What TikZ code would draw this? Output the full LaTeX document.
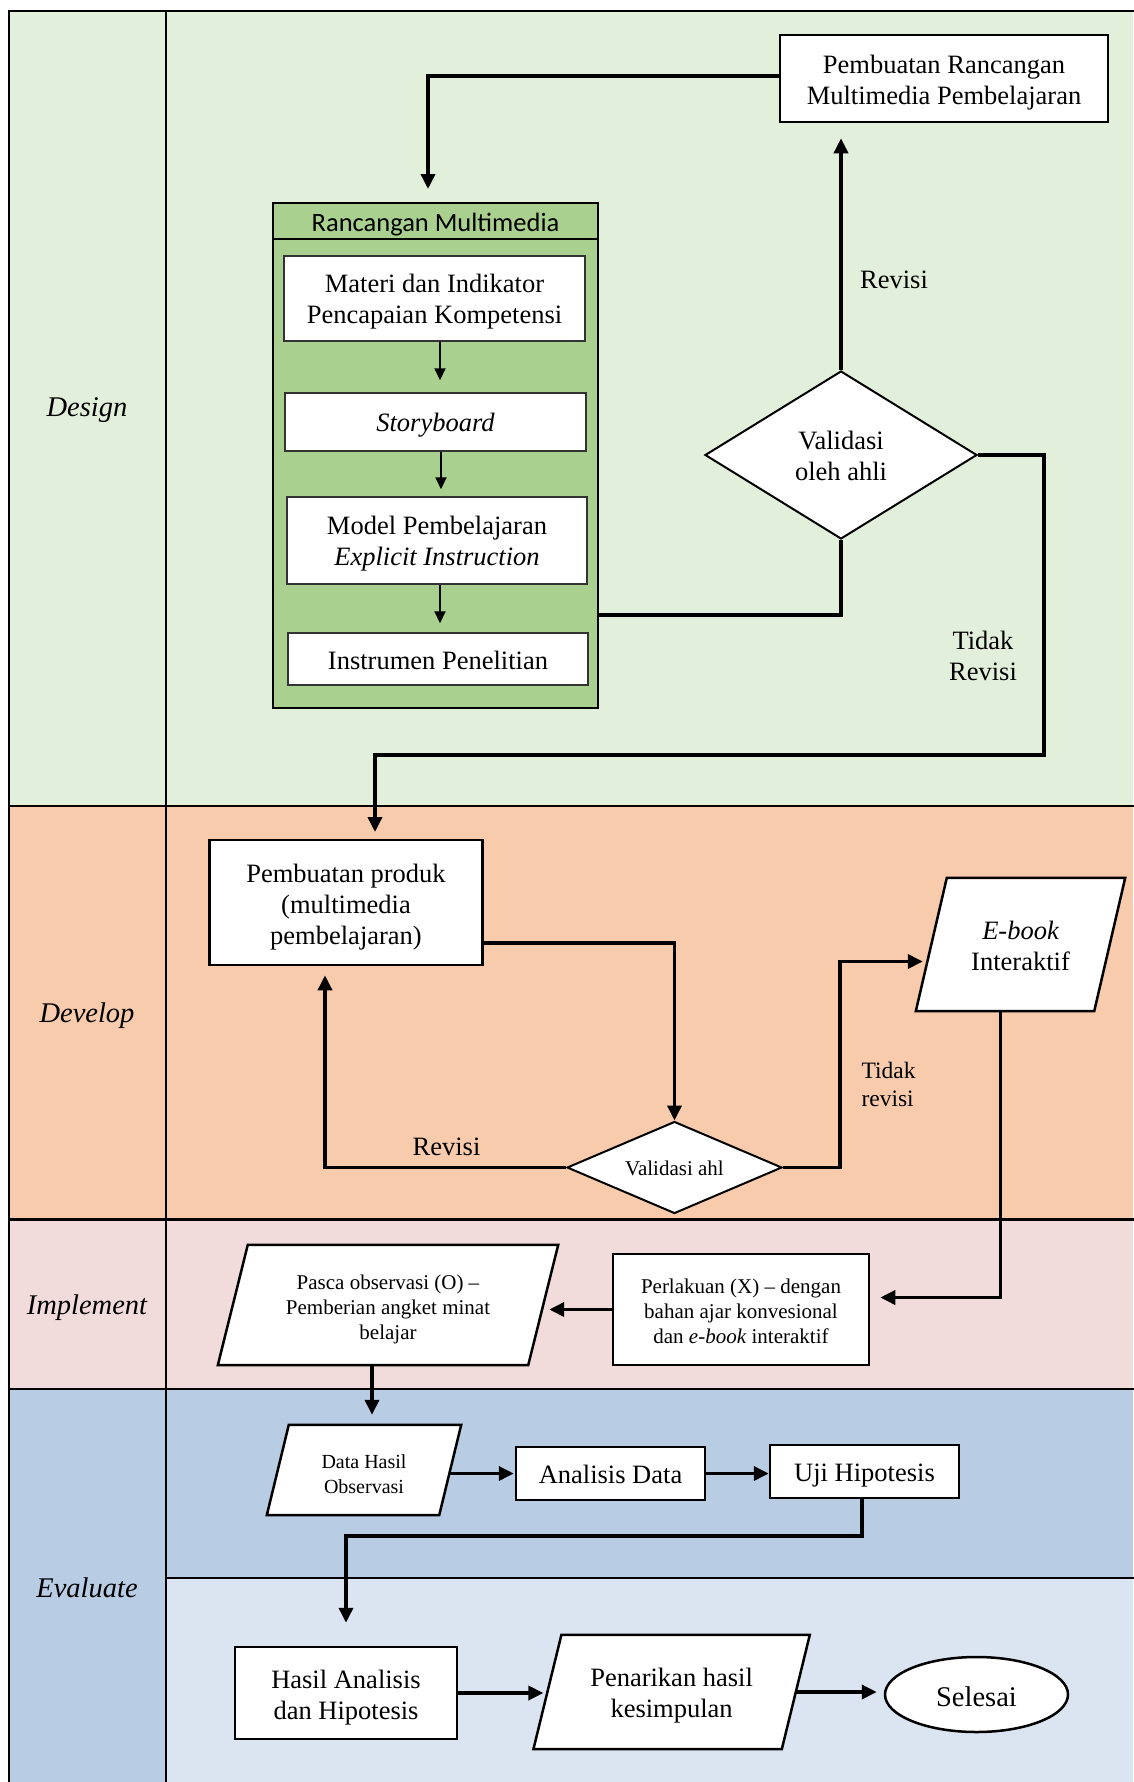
\documentclass[tikz,border=0pt]{standalone}
\usepackage{fontspec}
\setmainfont{Liberation Serif}
\newfontfamily\calib{Carlito}
\usetikzlibrary{shapes.geometric,arrows.meta,calc}
\pgfdeclarelayer{back}
\pgfdeclarelayer{mid}
\pgfsetlayers{back,mid,main}
\definecolor{cDesign}{HTML}{E2EFDA}
\definecolor{cDevelop}{HTML}{F8CBAD}
\definecolor{cImpl}{HTML}{F2DCDB}
\definecolor{cEvalD}{HTML}{B8CCE4}
\definecolor{cEvalL}{HTML}{DBE5F1}
\definecolor{cCont}{HTML}{A9D08E}
\newcommand{\bigf}{\fontsize{26.5}{31}\selectfont}
\newcommand{\midf}{\fontsize{23.5}{28}\selectfont}
\newcommand{\smallf}{\fontsize{21}{25}\selectfont}
\newcommand{\tinyf}{\fontsize{20}{24.3}\selectfont}
\newcommand{\lblf}{\fontsize{28.5}{33}\selectfont\itshape}
\newcommand{\drawpara}[2]{\begin{pgfonlayer}{mid}\draw[paraline] ([xshift=#2pt]#1.north west) -- ([xshift=#2pt]#1.north east) -- ([xshift=-#2pt]#1.south east) -- ([xshift=-#2pt]#1.south west) -- cycle;\end{pgfonlayer}}
% text of a shape, set a little lower than its centre
\newcommand{\tx}[4][\bigf]{\node[align=center,inner sep=0pt,font=#1] (#2-t) at ([yshift=-#3pt]#2.center) {#4};}
\begin{document}
\begin{tikzpicture}[x=1pt,y=-1pt,
  lane/.style={line width=2.2pt,line cap=rect},
  box/.style={draw,line width=2.5pt,fill=white,inner sep=0pt},
  ibox/.style={draw=black!80,line width=1.5pt,fill=white,inner sep=0pt},
  paraline/.style={draw,line width=2.5pt,fill=white,line join=miter},
  pnode/.style={inner sep=0pt},
  dia/.style={diamond,draw,line width=2pt,fill=white,inner sep=0pt},
  arr/.style={line width=3.5pt,-{Triangle[length=15pt,width=14pt]}},
  thinarr/.style={line width=2pt,-{Triangle[length=12pt,width=11pt]}},
  thk/.style={line width=3.5pt},
  lbl/.style={font=\lblf},
  txt/.style={font=\bigf,align=center}]
\useasboundingbox (0,0) rectangle (1133,1782);
% lanes
\begin{pgfonlayer}{back}
\fill[white] (0,0) rectangle (1133,1782);
\fill[cDesign] (9,11) rectangle (1133,806);
\fill[cDevelop] (9,806) rectangle (1133,1219.5);
\fill[cImpl] (9,1219.5) rectangle (1133,1389);
\fill[cEvalD] (9,1389) rectangle (1133,1578);
\fill[cEvalD] (9,1578) rectangle (166,1782);
\fill[cEvalL] (166,1578) rectangle (1133,1782);
\draw[lane] (1140,11) -- (9,11) -- (9,1790);
\draw[lane] (166,11) -- (166,1790);
\draw[lane] (9,806) -- (1140,806);
\draw[lane] (9,1219.5) -- (1140,1219.5);
\draw[lane] (9,1389) -- (1140,1389);
\draw[lane] (166,1578) -- (1140,1578);
\end{pgfonlayer}
% lane labels
\node[lbl] (lDesign) at (87,410) {Design};
\node[lbl] (lDevelop) at (87,1016) {Develop};
\node[lbl] (lImpl) at (87,1308) {Implement};
\node[lbl] (lEval) at (87,1588) {Evaluate};
% ---------- Design ----------
\node[box,minimum width=328pt,minimum height=87pt] (pr) at (944,78.5) {};
\tx{pr}{4}{Pembuatan Rancangan\\Multimedia Pembelajaran}
\node[draw,line width=2pt,fill=cCont,minimum width=325pt,minimum height=505pt,inner sep=0pt] (cont) at (435.5,455.5) {};
\draw[line width=2pt] (cont.west |- 0,239) -- (cont.east |- 0,239);
\node[font=\calib\fontsize{26.5}{31}\selectfont] (conthead) at (435.5,224.5) {Rancangan Multimedia};
\node[ibox,minimum width=301pt,minimum height=85pt] (m1) at (434.5,298.5) {};
\tx{m1}{3.5}{Materi dan Indikator\\Pencapaian Kompetensi}
\node[ibox,minimum width=301pt,minimum height=58pt] (m2) at (435.5,422) {};
\tx{m2}{3.5}{\itshape Storyboard}
\node[ibox,minimum width=300pt,minimum height=87pt] (m3) at (437,540.5) {};
\tx{m3}{3.5}{Model Pembelajaran\\\itshape Explicit Instruction}
\node[ibox,minimum width=300pt,minimum height=52pt] (m4) at (438,659) {};
\tx{m4}{1}{Instrumen Penelitian}
\draw[thinarr,shorten >=12pt] (m1.south -| 440,0) -- (m2.north -| 440,0);
\draw[thinarr,shorten >=7pt] (m2.south -| 441,0) -- (m3.north -| 441,0);
\draw[thinarr,shorten >=9pt] (m3.south -| 440,0) -- (m4.north -| 440,0);
\node[dia,minimum width=272pt,minimum height=168pt] (v1) at (841,455) {};
\tx{v1}{0.5}{Validasi\\oleh ahli}
\draw[arr,shorten >=13pt] (pr.west |- 0,76) -| (cont.north -| 428,0);
\draw[thk] (cont.east |- 0,615) -| (v1.south);
\draw[arr,shorten >=15pt] (v1.north) -- (v1.north |- pr.south);
\node[txt] (tRev1) at (894,280) {Revisi};
\draw[arr,shorten >=8pt] (v1.east) -| (1044,755) -| (375,840);
\node[txt] (tTR1) at (983,655.5) {Tidak\\Revisi};
% ---------- Develop ----------
\node[box,minimum width=273pt,minimum height=125pt] (pp) at (346,902.5) {};
\tx{pp}{4.5}{Pembuatan produk\\(multimedia\\pembelajaran)}
\node[dia,minimum width=215pt,minimum height=92pt] (v2) at (674.5,1167.5) {};
\tx[\smallf]{v2}{1}{Validasi ahl}
\draw[arr] ($(pp.south east)+(0,-23.5)$) -| (v2.north);
\draw[arr,shorten >=9pt] (v2.west) -| ($(pp.south)+(-21,0)$);
\node[txt] (tRev2) at (446.5,1147) {Revisi};
\node[pnode,minimum width=178pt,minimum height=133pt] (eb) at (1020.5,944.5) {};
\drawpara{eb}{15.5}
\tx{eb}{1}{\itshape E-book\\Interaktif}
\draw[arr,shorten >=8.5pt] (v2.east) -| (840,961.5) -- (eb.west |- 0,961.5);
\node[font=\midf,align=left,anchor=west] (tTR2) at (858,1084) {Tidak\\revisi};
% ---------- Implement ----------
\node[box,minimum width=256pt,minimum height=111pt] (per) at (741,1309.5) {};
\tx[\smallf]{per}{2}{Perlakuan (X) -- dengan\\bahan ajar konvesional\\dan \textit{e-book} interaktif}
\node[pnode,minimum width=310pt,minimum height=120pt] (pasca) at (388,1305) {};
\drawpara{pasca}{15}
\tx[\smallf]{pasca}{4.5}{Pasca observasi (O) --\\Pemberian angket minat\\belajar}
\draw[arr,shorten >=10pt] (eb.south -| 1000.5,0) |- (per.east |- 0,1297.5);
\draw[arr,shorten >=6pt] (per.west) -- (pasca.east |- per.west);
% ---------- Evaluate ----------
\node[pnode,minimum width=172pt,minimum height=90pt] (dh) at (364,1470) {};
\drawpara{dh}{11}
\tx[\tinyf]{dh}{4}{Data Hasil\\Observasi}
\draw[arr,shorten >=10pt] (pasca.south -| 372,0) -- (dh.north -| 372,0);
\node[box,minimum width=189pt,minimum height=53pt] (ad) at (610.5,1473.5) {};
\tx{ad}{1}{Analisis Data}
\node[box,minimum width=189pt,minimum height=53pt] (uji) at (864.5,1471.5) {};
\tx{uji}{4.5}{Uji Hipotesis}
\draw[arr,shorten >=1pt] (dh.east |- ad.west) -- (ad.west);
\draw[arr] (ad.east) -- (ad.east -| uji.west);
\node[box,minimum width=222pt,minimum height=92pt] (ha) at (346,1693) {};
\tx{ha}{4.5}{Hasil Analisis\\dan Hipotesis}
\draw[arr,shorten >=23pt] (uji.south -| 862,0) |- (ha.north |- 0,1536) -- (ha.north);
\node[pnode,minimum width=248pt,minimum height=114pt] (pen) at (671.6,1692) {};
\drawpara{pen}{14}
\tx{pen}{3.5}{Penarikan hasil\\kesimpulan}
\draw[arr,shorten >=4pt] (ha.east) -- (ha.east -| pen.west);
\node[ellipse,draw,line width=2.5pt,fill=white,inner sep=0pt,minimum width=183pt,minimum height=75pt] (sel) at (976.5,1694.5) {};
\tx[\fontsize{28.5}{33}\selectfont]{sel}{2}{Selesai}
\draw[arr,shorten >=7pt] (pen.east) -- (pen.east -| sel.west);
\end{tikzpicture}
\end{document}
